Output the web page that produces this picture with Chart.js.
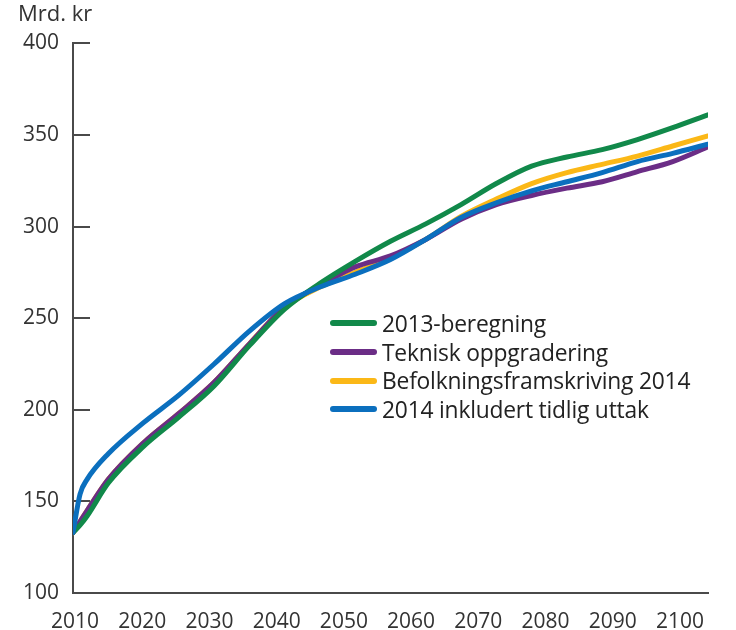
<!DOCTYPE html>
<html>
<head>
<meta charset="utf-8">
<script src="https://cdn.jsdelivr.net/npm/chart.js@4.4.1/dist/chart.umd.min.js"></script>
<style>
  body { margin: 0; background: #fff; }
  #wrap { position: relative; width: 736px; height: 630px; }
  #legend { position: absolute; left: 330px; top: 309px; font-family: "Open Sans", sans-serif; font-size: 22.8px; color: #222; letter-spacing: -0.2px; }
  .row { display: flex; align-items: center; height: 28.7px; }
  .sw { width: 47px; height: 6px; border-radius: 3px; margin-right: 5px; }
</style>
</head>
<body>
<div id="wrap">
  <canvas id="chart" width="736" height="630"></canvas>
  <div id="legend"></div>
</div>
<script>
const years = [2010, 2011, 2012, 2015, 2020, 2025, 2030, 2035, 2040, 2045, 2050, 2055, 2060, 2065, 2070, 2075, 2080, 2085, 2090, 2095, 2100]

const beregning2013 = [133, 137, 142, 160, 180, 196, 213, 235, 255, 269, 281, 292, 301.5, 312, 323.5, 333, 338, 342, 347.5, 354, 361]
const teknisk = [133, 139, 145, 162, 182, 198, 215, 236, 256, 268, 278, 284, 293, 304, 312, 317, 321, 324.5, 330, 335.5, 343.5]
const befolkning2014 = [133, 139, 145, 162, 182, 198, 215, 236, 256, 267, 275, 283, 293, 305.5, 315, 323.5, 329.5, 334, 338.5, 344, 349.5]
const tidligUttak = [133, 154, 162, 176, 193, 208, 225, 243, 258, 267, 274, 282, 293, 305, 313, 319.5, 324.5, 329.5, 335.5, 340, 345]

const yTicks = [100, 150, 200, 250, 300, 350, 400]
const xLabels = [2010, 2020, 2030, 2040, 2050, 2060, 2070, 2080, 2090, 2100]

const axisColor = "#4a4a4a"
const textColor = "#333"
const font = { family: "Open Sans", size: 21 }

function pts(vals) {
  return years.map((y, i) => ({ x: y, y: vals[i] }))
}

// inward tick marks on both axes
const innerTicks = {
  id: "innerTicks",
  beforeDatasetsDraw(chart) {
    const ctx = chart.ctx
    const y = chart.scales.y
    const xt = chart.scales.xt
    ctx.save()
    ctx.strokeStyle = axisColor
    ctx.lineWidth = 2
    y.ticks.forEach(t => {
      const py = Math.round(y.getPixelForValue(t.value))
      ctx.beginPath()
      ctx.moveTo(y.right, py)
      ctx.lineTo(y.right + 17, py)
      ctx.stroke()
    })
    xt.ticks.filter(t => Number.isInteger(t.value)).forEach(t => {
      const px = Math.round(xt.getPixelForValue(t.value))
      ctx.beginPath()
      ctx.moveTo(px, chart.chartArea.bottom)
      ctx.lineTo(px, chart.chartArea.bottom - 14)
      ctx.stroke()
    })
    ctx.restore()
  }
}

const chart = new Chart(document.getElementById("chart"), {
  type: "line",
  data: {
    datasets: [
      { label: "2013-beregning", data: pts(beregning2013), borderColor: "#11894a", order: 1 },
      { label: "Teknisk oppgradering", data: pts(teknisk), borderColor: "#6b2d86", order: 2 },
      { label: "Befolkningsframskriving 2014", data: pts(befolkning2014), borderColor: "#fbb817", order: 3 },
      { label: "2014 inkludert tidlig uttak", data: pts(tidligUttak), borderColor: "#0b6fbe", order: 0 }
    ]
  },
  options: {
    responsive: false,
    animation: false,
    events: [],
    layout: { padding: { left: 18, right: 28, top: 0, bottom: 0 } },
    elements: {
      point: { radius: 0 },
      line: { borderWidth: 5, cubicInterpolationMode: "monotone", borderCapStyle: "round", borderJoinStyle: "round" }
    },
    plugins: {
      legend: { display: false },
      tooltip: { enabled: false },
      title: {
        display: true,
        text: "Mrd. kr",
        align: "start",
        color: textColor,
        font: { family: "Open Sans", size: 22, weight: "normal" },
        padding: { top: 2, bottom: 15 }
      }
    },
    scales: {
      x: {
        type: "linear",
        min: 2010,
        max: 2100,
        grid: { display: false },
        border: { display: true, color: axisColor, width: 2 },
        ticks: { display: false },
        afterFit: s => { s.height = 0 }
      },
      xt: {
        type: "linear",
        position: "bottom",
        min: -0.5,
        max: 10.5,
        grid: { display: false },
        border: { display: false },
        ticks: { display: false, stepSize: 1 },
        afterFit: s => { s.height = 0 }
      },
      xl: {
        type: "linear",
        position: "bottom",
        min: 2009.7,
        max: 2104.17,
        grid: { display: false },
        border: { display: false },
        afterBuildTicks: s => { s.ticks = xLabels.map(v => ({ value: v })) },
        ticks: { color: textColor, font: font, padding: 8, maxRotation: 0, autoSkip: false, callback: v => String(v) },
        afterFit: s => { s.height = 37 }
      },
      y: {
        min: 100,
        max: 400,
        grid: { display: false },
        border: { display: true, color: axisColor, width: 2 },
        afterBuildTicks: s => { s.ticks = yTicks.map(v => ({ value: v })) },
        ticks: { color: textColor, font: font, padding: 6 },
        afterFit: s => { s.width = 55 }
      }
    }
  },
  plugins: [innerTicks]
})

const legend = document.getElementById("legend")
chart.data.datasets.forEach(ds => {
  const row = document.createElement("div")
  row.className = "row"
  row.innerHTML = `<span class="sw" style="background:${ds.borderColor}"></span><span>${ds.label}</span>`
  legend.appendChild(row)
})
</script>
</body>
</html>
